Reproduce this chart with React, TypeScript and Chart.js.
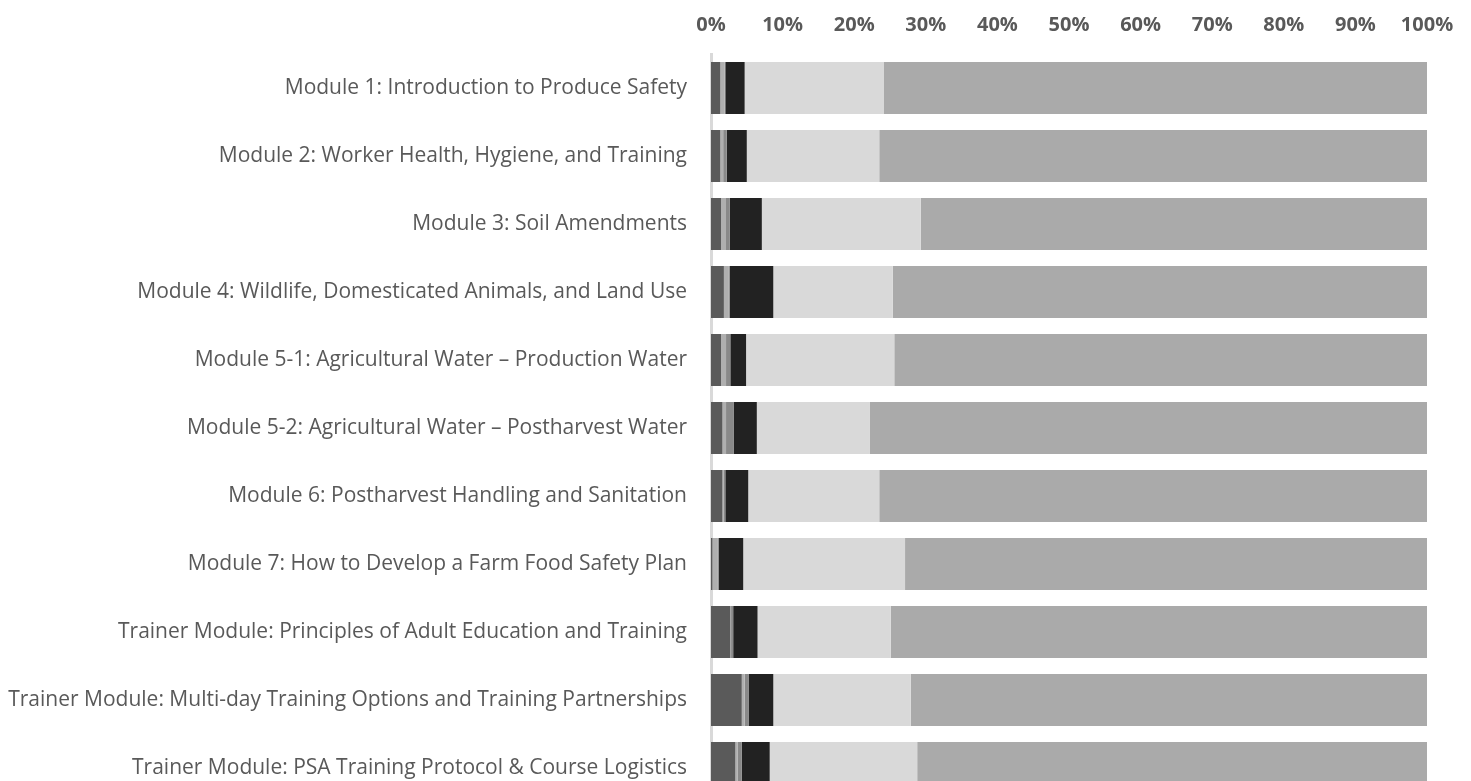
import React, { useEffect, useRef } from "react";
import { Chart, registerables } from "chart.js";

Chart.register(...registerables);

const categories = [
  "Module 1: Introduction to Produce Safety",
  "Module 2: Worker Health, Hygiene, and Training",
  "Module 3: Soil Amendments",
  "Module 4: Wildlife, Domesticated Animals, and Land Use",
  "Module 5-1: Agricultural Water \u2013 Production Water",
  "Module 5-2: Agricultural Water \u2013 Postharvest Water",
  "Module 6: Postharvest Handling and Sanitation",
  "Module 7: How to Develop a Farm Food Safety Plan",
  "Trainer Module: Principles of Adult Education and Training",
  "Trainer Module: Multi-day Training Options and Training Partnerships",
  "Trainer Module: PSA Training Protocol & Course Logistics",
];

const series1 = [1.3, 1.3, 1.4, 1.8, 1.4, 1.6, 1.6, 0.2, 2.7, 4.3, 3.4];
const series2 = [0.6, 0.4, 0.6, 0.7, 0.7, 0.5, 0.2, 0.7, 0.1, 0.4, 0.3];
const series3 = [0.1, 0.5, 0.6, 0.1, 0.6, 1.1, 0.2, 0.2, 0.3, 0.6, 0.6];
const series4 = [2.7, 2.8, 4.5, 6.1, 2.2, 3.2, 3.2, 3.4, 3.4, 3.4, 3.9];
const series5 = [19.4, 18.5, 22.2, 16.7, 20.7, 15.8, 18.3, 22.6, 18.6, 19.2, 20.6];
const series6 = [75.9, 76.5, 70.7, 74.6, 74.4, 77.8, 76.5, 72.9, 74.9, 72.1, 71.2];

const seriesNames = ["Series 1", "Series 2", "Series 3", "Series 4", "Series 5", "Series 6"];
const seriesColors = ["#5a5a5a", "#afafaf", "#898989", "#222222", "#d9d9d9", "#aaaaaa"];

const xTicks = [0, 10, 20, 30, 40, 50, 60, 70, 80, 90, 100];

export default function App() {
  const ref = useRef<HTMLCanvasElement>(null);

  useEffect(() => {
    if (!ref.current) return;
    const all = [series1, series2, series3, series4, series5, series6];
    const chart = new Chart(ref.current, {
      type: "bar",
      data: {
        labels: categories,
        datasets: all.map((d, i) => ({
          label: seriesNames[i],
          data: d,
          backgroundColor: seriesColors[i],
          borderWidth: 0,
          categoryPercentage: 1,
          barPercentage: 0.765,
        })),
      },
      options: {
        indexAxis: "y",
        responsive: false,
        animation: false,
        maintainAspectRatio: false,
        layout: { padding: { left: 0, right: 44, top: 0, bottom: 8 } },
        plugins: {
          legend: { display: false },
          tooltip: { enabled: false },
        },
        scales: {
          x: {
            position: "top",
            stacked: true,
            min: 0,
            max: 100,
            afterBuildTicks: (scale: any) => {
              scale.ticks = xTicks.map((v) => ({ value: v }));
            },
            afterFit: (scale: any) => {
              scale.height = 54;
            },
            grid: { display: false, drawTicks: false },
            border: { display: false },
            ticks: {
              padding: 17,
              color: "#595959",
              font: { family: "'Open Sans'", size: 20, weight: "bold" },
              callback: (v: any) => v + "%",
              maxRotation: 0,
              autoSkip: false,
            },
          },
          y: {
            stacked: true,
            afterFit: (scale: any) => {
              scale.width = 711;
              scale.paddingTop = 0;
              scale.paddingBottom = 0;
            },
            grid: { display: false, drawTicks: false },
            border: { display: true, color: "#d9d9d9", width: 3 },
            ticks: {
              padding: 24,
              color: "#595959",
              font: { family: "'Open Sans'", size: 21 },
              autoSkip: false,
            },
          },
        },
      },
    });
    return () => chart.destroy();
  }, []);

  return (
    <div
      style={{
        position: "fixed",
        left: 0,
        top: 0,
        width: 1471,
        height: 781,
        overflow: "hidden",
        background: "#ffffff",
      }}
    >
      <div style={{ width: 1471, height: 810 }}>
        <canvas
          ref={ref}
          width={1471}
          height={810}
          style={{ display: "block", width: 1471, height: 810 }}
        />
      </div>
    </div>
  );
}
